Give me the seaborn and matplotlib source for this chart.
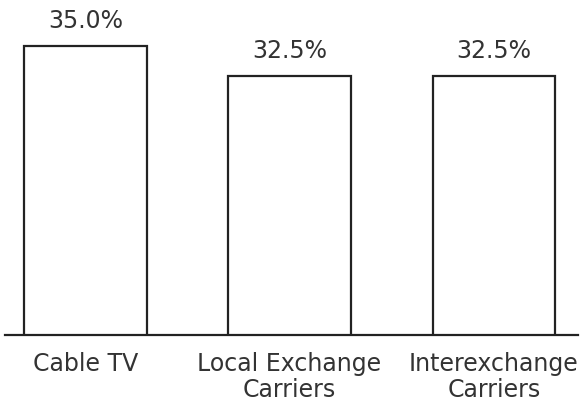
import matplotlib
matplotlib.use("Agg")
import matplotlib.pyplot as plt
import seaborn as sns
import pandas as pd

# chart data
categories = ["Cable TV", "Local Exchange\nCarriers", "Interexchange\nCarriers"]
shares = [35.0, 32.5, 32.5]

df = pd.DataFrame({"segment": categories, "share": shares})

sns.set_style("white")
plt.rcParams['font.family'] = ['DejaVu Sans']

fig = plt.figure(figsize=(5.8, 4.03), dpi=100)
ax = fig.add_axes([5 / 580, 68 / 403, 573 / 580, 335 / 403])

sns.barplot(data=df, x="segment", y="share", color="white",
            edgecolor="#222222", linewidth=1.6, width=0.6, ax=ax)

# value labels above bars
for cont in ax.containers:
    ax.bar_label(cont, fmt="%.1f%%", padding=9, fontsize=17, color="#333333")

ax.set_ylim(10.9, 38.8)
ax.set_xlim(-0.393, 2.412)
ax.set_xlabel("")
ax.set_ylabel("")
ax.set_yticks([])
ax.tick_params(axis="x", length=0, pad=12.5, labelsize=17, labelcolor="#333333")
for lbl in ax.get_xticklabels():
    lbl.set_linespacing(1.08)

for side in ["top", "left", "right"]:
    ax.spines[side].set_visible(False)
ax.spines["bottom"].set_color("#222222")
ax.spines["bottom"].set_linewidth(1.6)

fig.savefig("out.png", dpi=100)
